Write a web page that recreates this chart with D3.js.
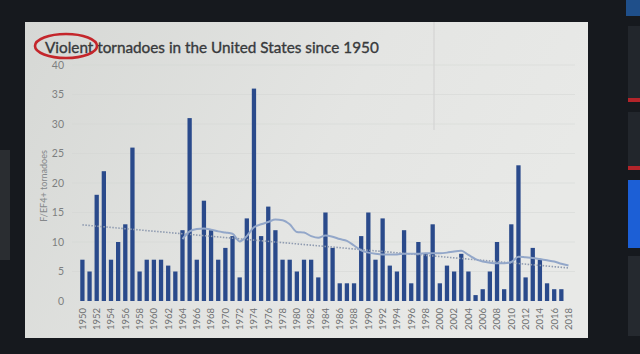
<!DOCTYPE html>
<html>
<head>
<meta charset="UTF-8">
<title>Violent tornadoes</title>
<script src="https://cdn.jsdelivr.net/npm/d3@7"></script>
<style>
  body { margin: 0; background: #15181c; }
  svg { display: block; }
  .tick text { font-family: Lato, "Open Sans", sans-serif; }
</style>
</head>
<body>
<div id="chart"></div>
<script>
// F/EF4+ tornado counts per year
var years = d3.range(1950, 2019);
var counts = [7, 5, 18, 22, 7, 10, 13, 26, 5, 7,
              7, 7, 6, 5, 12, 31, 7, 17, 12, 7,
              9, 11, 4, 14, 36, 11, 16, 12, 7, 7,
              5, 7, 7, 4, 15, 9, 3, 3, 3, 11,
              15, 7, 14, 6, 5, 12, 3, 10, 8, 13,
              3, 6, 5, 8, 5, 1, 2, 5, 10, 2,
              13, 23, 4, 9, 7, 3, 2, 2, 0];

// moving average line (starts 1964)
var avgYears = d3.range(1964, 2019);
var avgValues = [10.5, 11.8, 12.2, 12.3, 12.1, 11.8, 11.6, 11.4, 10.1, 11.0,
                 12.5, 13.0, 13.4, 13.8, 13.7, 13.0, 11.7, 11.6, 11.0, 10.7,
                 11.1, 10.9, 10.5, 10.2, 9.4, 8.6, 8.2, 8.0, 7.9, 7.9,
                 7.9, 8.0, 8.0, 8.0, 8.1, 8.1, 8.1, 8.2, 8.4, 8.5,
                 7.8, 7.1, 6.7, 6.5, 6.4, 6.4, 6.6, 7.5, 7.4, 7.3,
                 7.1, 6.9, 6.7, 6.3, 6.0];

// linear trend endpoints
var trendYears = [1950, 2018];
var trendValues = [12.9, 5.6];

var yTicks = [0, 5, 10, 15, 20, 25, 30, 35, 40];
var xLabels = years.filter(function(d) { return d % 2 === 0; });

var width = 640, height = 354;

var svg = d3.select("#chart").append("svg")
  .attr("width", width)
  .attr("height", height);

var defs = svg.append("defs");
var grad = defs.append("linearGradient").attr("id", "screen")
  .attr("x1", "0").attr("y1", "0").attr("x2", "1").attr("y2", "0.3");
grad.append("stop").attr("offset", "0").attr("stop-color", "#d6d8d5");
grad.append("stop").attr("offset", "0.6").attr("stop-color", "#e4e5e3");
grad.append("stop").attr("offset", "1").attr("stop-color", "#e8e9e7");

// dark surroundings (photo of a screen)
svg.append("rect").attr("width", width).attr("height", height).attr("fill", "#16191e");
svg.append("rect").attr("x", 626).attr("y", 0).attr("width", 14).attr("height", 16).attr("fill", "#1f4f8a");
svg.append("rect").attr("x", 628).attr("y", 26).attr("width", 12).attr("height", 76).attr("fill", "#22262c");
svg.append("rect").attr("x", 628).attr("y", 98).attr("width", 12).attr("height", 4).attr("fill", "#b3242a");
svg.append("rect").attr("x", 628).attr("y", 112).attr("width", 12).attr("height", 58).attr("fill", "#22262c");
svg.append("rect").attr("x", 628).attr("y", 166).attr("width", 12).attr("height", 4).attr("fill", "#b3242a");
svg.append("rect").attr("x", 628).attr("y", 180).attr("width", 12).attr("height", 68).attr("fill", "#1c5fd6");
svg.append("rect").attr("x", 628).attr("y", 256).attr("width", 12).attr("height", 80).attr("fill", "#25292f");
svg.append("rect").attr("x", 0).attr("y", 150).attr("width", 10).attr("height", 110).attr("fill", "#2a2d31");

// screen
svg.append("rect").attr("x", 25).attr("y", 22).attr("width", 563).attr("height", 316)
  .attr("fill", "url(#screen)");
svg.append("line").attr("x1", 434).attr("x2", 434).attr("y1", 22).attr("y2", 130)
  .attr("stroke", "#a4a6a4").attr("stroke-width", 0.6).attr("opacity", 0.5);

var x = d3.scaleBand().domain(years).range([77.4, 573.5]).padding(0.4);
var y = d3.scaleLinear().domain([0, 40]).range([301, 65]);

// faint gridlines
svg.append("g")
  .selectAll("line")
  .data(yTicks.slice(1)).enter()
  .append("line")
  .attr("x1", 72).attr("x2", 575)
  .attr("y1", function(d) { return y(d); })
  .attr("y2", function(d) { return y(d); })
  .attr("stroke", "#d2d4d2").attr("stroke-width", 0.5);

// bars
svg.append("g")
  .selectAll("rect")
  .data(years).enter()
  .append("rect")
  .attr("x", function(d) { return x(d); })
  .attr("width", x.bandwidth())
  .attr("y", function(d, i) { return y(counts[i]); })
  .attr("height", function(d, i) { return y(0) - y(counts[i]); })
  .attr("fill", "#2a4a8b");

// trend line (dotted)
var line = d3.line()
  .x(function(d) { return x(d[0]) + x.bandwidth() / 2; })
  .y(function(d) { return y(d[1]); });

svg.append("path")
  .datum(d3.zip(trendYears, trendValues))
  .attr("d", line)
  .attr("fill", "none")
  .attr("stroke", "#8f9bb0")
  .attr("stroke-width", 1.6)
  .attr("stroke-dasharray", "1.5,1.5");

// moving average
svg.append("path")
  .datum(d3.zip(avgYears, avgValues))
  .attr("d", line.curve(d3.curveMonotoneX))
  .attr("fill", "none")
  .attr("stroke", "#93a7c9")
  .attr("stroke-width", 2);

// y axis
var yAxis = svg.append("g")
  .attr("transform", "translate(68,0)")
  .call(d3.axisLeft(y).tickValues(yTicks).tickSize(0).tickPadding(4));
yAxis.select(".domain").remove();
yAxis.selectAll("text").attr("fill", "#7d7f80").style("font-size", "10.5px");

svg.append("text")
  .attr("transform", "translate(47,186) rotate(-90)")
  .attr("text-anchor", "middle")
  .attr("fill", "#85888a")
  .style("font-family", "Lato, sans-serif")
  .style("font-size", "9px")
  .text("F/EF4+ tornadoes");

// x axis labels
var xAxis = svg.append("g")
  .attr("transform", "translate(0,301)")
  .call(d3.axisBottom(x).tickValues(xLabels).tickSize(0).tickPadding(0));
xAxis.select(".domain").remove();
xAxis.selectAll("text")
  .attr("fill", "#6f7172")
  .style("font-size", "9.5px")
  .attr("text-anchor", "end")
  .attr("dy", "0.35em")
  .attr("transform", "translate(0,7) rotate(-90)")
  .attr("y", 0)
  .attr("x", 0);

// title
svg.append("text")
  .attr("x", 45)
  .attr("y", 53)
  .attr("fill", "#383a3c")
  .attr("stroke", "#383a3c")
  .attr("stroke-width", 0.35)
  .style("font-family", "Lato, sans-serif")
  .style("font-size", "15.3px")
  .text("Violent tornadoes in the United States since 1950");

// red circle around "Violent"
svg.append("ellipse")
  .attr("cx", 66).attr("cy", 46)
  .attr("rx", 31).attr("ry", 12)
  .attr("fill", "none")
  .attr("stroke", "#c4262b")
  .attr("stroke-width", 2.6);
</script>
</body>
</html>
